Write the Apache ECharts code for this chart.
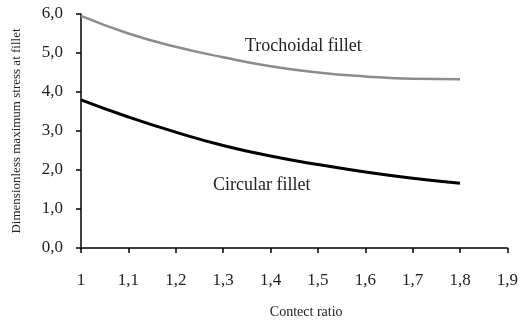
<!DOCTYPE html>
<html>
<head>
<meta charset="utf-8">
<script src="https://cdn.jsdelivr.net/npm/echarts@6/dist/echarts.min.js"></script>
<style>
  html, body { margin: 0; padding: 0; background: #fff; }
  #chart { width: 521px; height: 324px; }
</style>
</head>
<body>
<div id="chart"></div>
<script>
// contact ratio on x
const ratios = [1.0, 1.1, 1.2, 1.3, 1.4, 1.5, 1.6, 1.7, 1.8];
const trochoidal = [5.95, 5.50, 5.16, 4.89, 4.66, 4.50, 4.40, 4.34, 4.33];
const circular = [3.80, 3.36, 2.97, 2.63, 2.36, 2.14, 1.95, 1.79, 1.66];

const serif = '"Liberation Serif", "DejaVu Serif", serif';
const comma = (v, d) => v.toFixed(d).replace('.', ',');

const toPairs = (ys) => ratios.map((x, i) => [x, ys[i]]);

const chart = echarts.init(document.getElementById('chart'));
chart.setOption({
    backgroundColor: '#fff',
    animation: false,
    grid: { left: 81, right: 12, top: 14, bottom: 73 },
    xAxis: {
        type: 'value',
        min: 1,
        max: 1.9,
        interval: 0.1,
        name: 'Contect ratio',
        nameLocation: 'middle',
        nameGap: 57,
        nameTextStyle: { fontFamily: serif, fontSize: 14, color: '#222', padding: [0, 0, 0, 24] },
        axisLine: { lineStyle: { color: '#000', width: 1.5 } },
        axisTick: { show: true, length: 5, lineStyle: { color: '#000', width: 1.5 } },
        axisLabel: {
            fontFamily: serif, fontSize: 17, color: '#222', margin: 24,
            formatter: (v) => Math.abs(v - 1) < 1e-6 ? '1' : comma(v, 1)
        },
        splitLine: { show: false }
    },
    yAxis: {
        type: 'value',
        min: 0,
        max: 6,
        interval: 1,
        name: 'Dimensionless maximum stress at fillet',
        nameLocation: 'middle',
        nameGap: 58,
        nameTextStyle: { fontFamily: serif, fontSize: 13, color: '#222' },
        axisLine: { show: true, lineStyle: { color: '#000', width: 1.5 } },
        axisTick: { show: true, length: 5, lineStyle: { color: '#000', width: 1.5 } },
        axisLabel: {
            fontFamily: serif, fontSize: 17, color: '#222', margin: 18,
            formatter: (v) => comma(v, 1)
        },
        splitLine: { show: false }
    },
    series: [
        {
            name: 'Trochoidal fillet',
            type: 'line',
            smooth: true,
            symbol: 'none',
            data: toPairs(trochoidal),
            lineStyle: { color: '#8c8c8c', width: 2.5 }
        },
        {
            name: 'Circular fillet',
            type: 'line',
            smooth: true,
            symbol: 'none',
            data: toPairs(circular),
            lineStyle: { color: '#000', width: 3 }
        }
    ],
    graphic: [
        {
            type: 'text', left: 245, top: 37,
            style: { text: 'Trochoidal fillet', font: '18px ' + serif, fill: '#222' }
        },
        {
            type: 'text', left: 213, top: 176,
            style: { text: 'Circular fillet', font: '18px ' + serif, fill: '#222' }
        }
    ]
});
</script>
</body>
</html>
